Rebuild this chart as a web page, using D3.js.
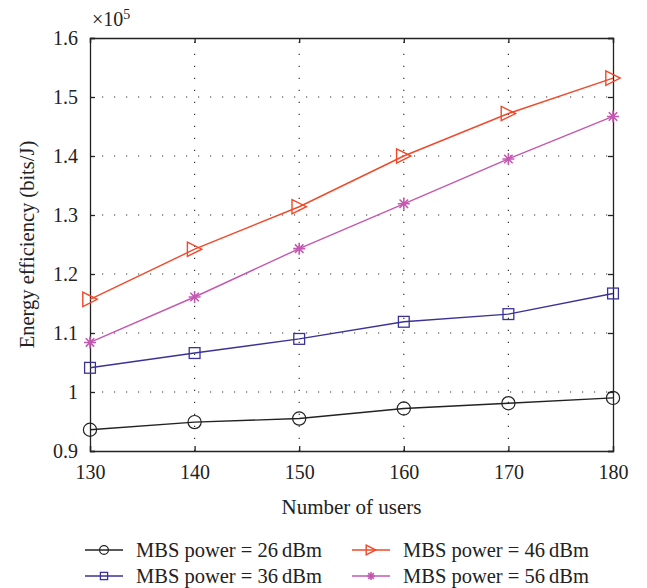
<!DOCTYPE html>
<html>
<head>
<meta charset="utf-8">
<script src="https://cdn.jsdelivr.net/npm/d3@7"></script>
<style>
  body { margin: 0; background: #fff; }
  svg text { font-family: "Liberation Serif", "DejaVu Serif", serif; fill: #222; }
</style>
</head>
<body>
<svg width="647" height="588"></svg>
<script>
// data
var users = [130, 140, 150, 160, 170, 180]
var p26 = [0.936, 0.949, 0.955, 0.972, 0.981, 0.990]
var p36 = [1.041, 1.066, 1.090, 1.119, 1.132, 1.167]
var p46 = [1.157, 1.242, 1.314, 1.400, 1.472, 1.532]
var p56 = [1.084, 1.161, 1.243, 1.319, 1.395, 1.467]
var yTicks = [0.9, 1, 1.1, 1.2, 1.3, 1.4, 1.5, 1.6]
var names = ['MBS power = 26\u2009dBm', 'MBS power = 36\u2009dBm', 'MBS power = 46\u2009dBm', 'MBS power = 56\u2009dBm']

var series = [
  { name: names[0], values: p26, color: '#222222', marker: 'circle' },
  { name: names[1], values: p36, color: '#3b3298', marker: 'square' },
  { name: names[2], values: p46, color: '#f2482a', marker: 'triangle' },
  { name: names[3], values: p56, color: '#c458b0', marker: 'star' }
]

var pLeft = 90, pRight = 613, pTop = 38, pBottom = 451

var svg = d3.select('svg')

var x = d3.scaleLinear().domain([130, 180]).range([pLeft, pRight])
var y = d3.scaleLinear().domain([0.9, 1.6]).range([pBottom, pTop])

// grid
var grid = svg.append('g')
grid.selectAll('.gx')
  .data(users.slice(1, -1))
  .enter().append('line')
  .attr('x1', function(d) { return x(d) }).attr('x2', function(d) { return x(d) })
  .attr('y1', pBottom).attr('y2', pTop)
  .attr('stroke', '#333').attr('stroke-width', 1.2)
  .attr('stroke-dasharray', '1.2,10.8')
grid.selectAll('.gy')
  .data(yTicks.slice(1, -1))
  .enter().append('line')
  .attr('y1', function(d) { return y(d) }).attr('y2', function(d) { return y(d) })
  .attr('x1', pLeft).attr('x2', pRight)
  .attr('stroke', '#333').attr('stroke-width', 1.2)
  .attr('stroke-dasharray', '1.2,10.8')

// axes
var fmt = function(d) { return d === 1 ? '1' : d3.format('.1f')(d) }
var xAxis = svg.append('g').attr('transform', 'translate(0,' + pBottom + ')')
  .call(d3.axisBottom(x).tickValues(users).tickSize(-5).tickPadding(14).tickFormat(d3.format('d')))
var xTop = svg.append('g').attr('transform', 'translate(0,' + pTop + ')')
  .call(d3.axisTop(x).tickValues(users).tickSize(-5).tickFormat(''))
var yAxis = svg.append('g').attr('transform', 'translate(' + pLeft + ',0)')
  .call(d3.axisLeft(y).tickValues(yTicks).tickSize(-5).tickPadding(12).tickFormat(fmt))
var yRight = svg.append('g').attr('transform', 'translate(' + pRight + ',0)')
  .call(d3.axisRight(y).tickValues(yTicks).tickSize(-5).tickFormat(''))

svg.selectAll('.domain').attr('stroke', '#222').attr('stroke-width', 1.3)
svg.selectAll('.tick line').attr('stroke', '#222').attr('stroke-width', 1.3)
svg.selectAll('.tick text').style('font-size', '20px').attr('fill', '#222')
xAxis.selectAll('.tick text').attr('dy', '0.71em')

// markers
function drawMarker(g, type, color, s) {
  if (type === 'circle') {
    g.append('circle').attr('r', s * 0.55).attr('fill', 'none').attr('stroke', color).attr('stroke-width', 1.2)
  } else if (type === 'square') {
    g.append('rect').attr('x', -s * 0.45).attr('y', -s * 0.45).attr('width', s * 0.9).attr('height', s * 0.9)
      .attr('fill', 'none').attr('stroke', color).attr('stroke-width', 1.3)
  } else if (type === 'triangle') {
    var h = s * 0.6
    g.append('path').attr('d', 'M' + (-h) + ',' + (-h) + 'L' + h + ',0L' + (-h) + ',' + h + 'Z')
      .attr('fill', 'none').attr('stroke', color).attr('stroke-width', 1.4)
  } else {
    var r = s * 0.5
    var d = ''
    for (var k = 0; k < 4; k++) {
      var a = k * Math.PI / 4
      d += 'M' + (-r * Math.cos(a)) + ',' + (-r * Math.sin(a)) + 'L' + (r * Math.cos(a)) + ',' + (r * Math.sin(a))
    }
    g.append('path').attr('d', d).attr('stroke', color).attr('stroke-width', 1.6)
  }
}

var line = d3.line()
  .x(function(d, i) { return x(users[i]) })
  .y(function(d) { return y(d) })

series.forEach(function(s) {
  svg.append('path')
    .attr('d', line(s.values))
    .attr('fill', 'none')
    .attr('stroke', s.color)
    .attr('stroke-width', 1.4)
  s.values.forEach(function(v, i) {
    var g = svg.append('g').attr('transform', 'translate(' + x(users[i]) + ',' + y(v) + ')')
    drawMarker(g, s.marker, s.color, 12)
  })
})

// labels
var mult = svg.append('text').attr('x', 92).attr('y', 26).style('font-size', '20px')
mult.append('tspan').text('\u00d710')
mult.append('tspan').attr('dy', -7).style('font-size', '14px').text('5')

svg.append('text')
  .attr('transform', 'translate(34,' + ((pTop + pBottom) / 2) + ') rotate(-90)')
  .attr('text-anchor', 'middle')
  .style('font-size', '20.5px')
  .text('Energy efficiency (bits/J)')

svg.append('text')
  .attr('x', (pLeft + pRight) / 2).attr('y', 514)
  .attr('text-anchor', 'middle')
  .style('font-size', '21px')
  .text('Number of users')

// legend
var legendPos = [[85, 550], [85, 576], [352, 550], [352, 576]]
series.forEach(function(s, i) {
  var g = svg.append('g').attr('transform', 'translate(' + legendPos[i][0] + ',' + legendPos[i][1] + ')')
  g.append('line').attr('x1', 0).attr('x2', 38).attr('stroke', s.color).attr('stroke-width', 1.4)
  var m = g.append('g').attr('transform', 'translate(19,0)')
  drawMarker(m, s.marker, s.color, 8)
  g.append('text').attr('x', 51).attr('y', 7).style('font-size', '20.5px').text(s.name)
})
</script>
</body>
</html>
